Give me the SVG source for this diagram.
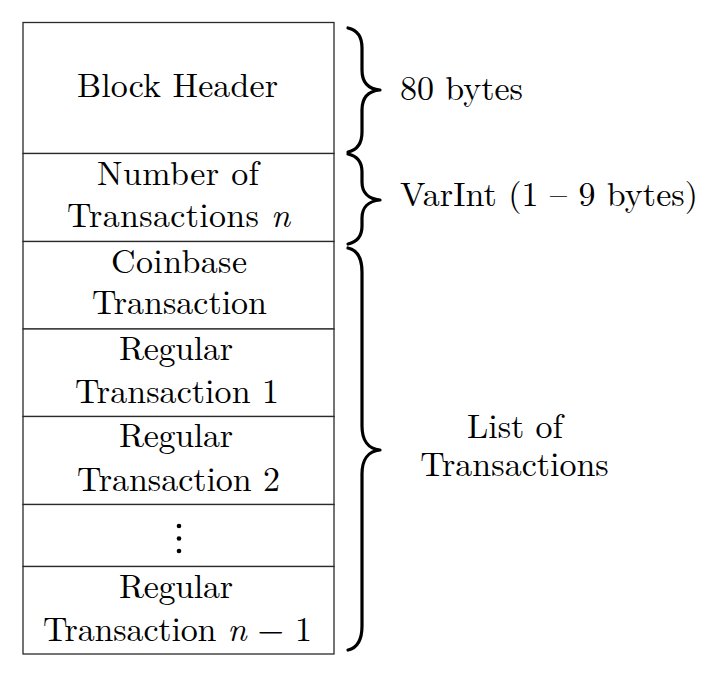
<svg xmlns="http://www.w3.org/2000/svg" width="718" height="680" viewBox="0 0 718 680">
<style>
.cell{fill:#fff;stroke:#2a2a2a;stroke-width:1.3}
.brace{fill:none;stroke:#000;stroke-width:3.2;stroke-linecap:round;stroke-linejoin:round}
</style>
<rect width="718" height="680" fill="#fff"/>
<g font-family="Latin Modern Roman, Liberation Serif, serif" font-size="34" fill="#000">
<g id="block-header">
<rect class="cell" x="23" y="22.5" width="311" height="131"/>
<text x="77" y="97" textLength="201">Block Header</text>
</g>
<g id="tx-count">
<rect class="cell" x="23" y="153.5" width="311" height="88"/>
<text x="97" y="185" textLength="162">Number of</text>
<text x="67" y="227" textLength="223">Transactions <tspan font-style="italic">n</tspan></text>
</g>
<g id="coinbase">
<rect class="cell" x="23" y="241.5" width="311" height="87.5"/>
<text x="111" y="273" textLength="136">Coinbase</text>
<text x="92" y="314" textLength="175">Transaction</text>
</g>
<g id="regular-1">
<rect class="cell" x="23" y="329" width="311" height="87.5"/>
<text x="119" y="360" textLength="114">Regular</text>
<text x="75" y="403" textLength="204">Transaction 1</text>
</g>
<g id="regular-2">
<rect class="cell" x="23" y="416.5" width="311" height="88"/>
<text x="119" y="447" textLength="114">Regular</text>
<text x="77" y="491" textLength="203">Transaction 2</text>
</g>
<g id="ellipsis">
<rect class="cell" x="23" y="504.5" width="311" height="62"/>
<circle cx="179" cy="526" r="2.3"/>
<circle cx="179" cy="538.5" r="2.3"/>
<circle cx="179" cy="551" r="2.3"/>
</g>
<g id="regular-n-1">
<rect class="cell" x="23" y="566.5" width="311" height="87.5"/>
<text x="119" y="598" textLength="114">Regular</text>
<text x="43" y="641" textLength="269">Transaction <tspan font-style="italic">n</tspan> − 1</text>
</g>
<g id="connectors">
<path class="brace" d="M348 28 C357 30 362 36 362 48 L362 70 C362 82 368 89 380 90 C368 91 362 98 362 110 L362 132 C362 144 357 150 348 152"/>
<path class="brace" d="M348 154 C357 156 362 162 362 172 L362 182 C362 192 368 199 380 200 C368 201 362 208 362 218 L362 226 C362 236 357 242 348 244"/>
<path class="brace" d="M348 248 C357 250 362 258 362 272 L362 426 C362 440 368 449 380 450 C368 451 362 460 362 474 L362 626 C362 640 357 648 348 650"/>
</g>
<g id="label-80">
<text x="400" y="100" textLength="123">80 bytes</text>
</g>
<g id="label-varint">
<text x="400" y="206" textLength="298">VarInt (1 – 9 bytes)</text>
</g>
<g id="label-list" text-anchor="middle">
<text x="515" y="438">List of</text>
<text x="514.5" y="476">Transactions</text>
</g>
</g>
</svg>
